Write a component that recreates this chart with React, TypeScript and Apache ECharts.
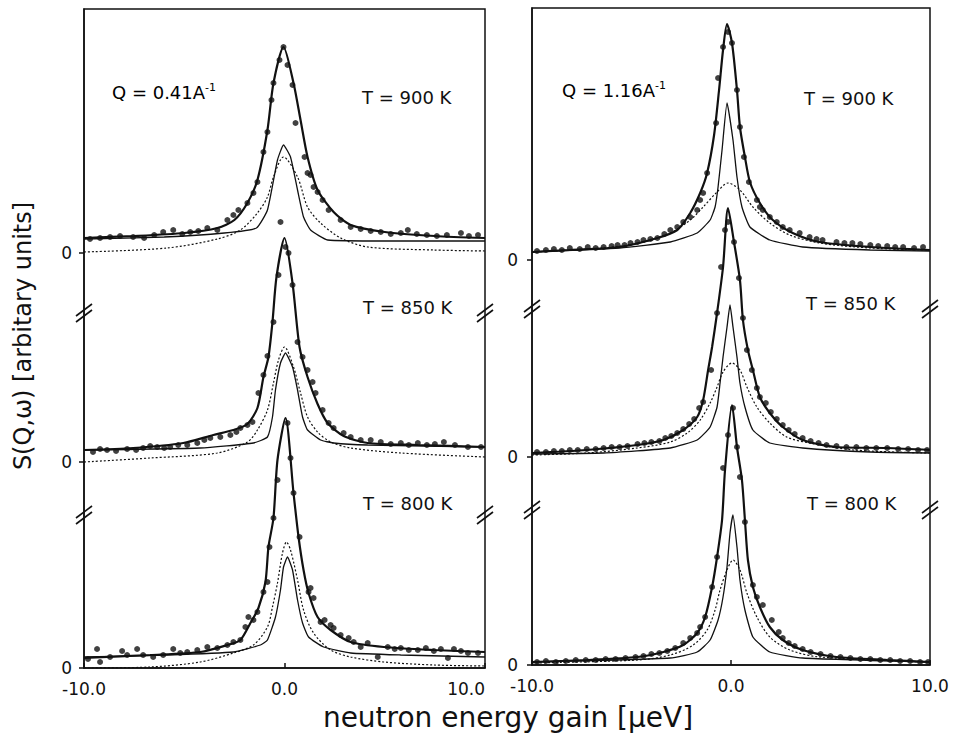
import React, { useEffect, useRef } from 'react';
import * as echarts from 'echarts';

type P = [number, number];

const FONT = '"DejaVu Sans", "Liberation Sans", sans-serif';
const INK = '#111';

// x axis (neutron energy gain, µeV)
const X_MIN = -10;
const X_MAX = 10;
const X_STEP = 10;

// baselines of the stacked spectra (arbitrary units)
const LEFT_BASE = { t800: 0, t850: 206, t900: 415 };
const RIGHT_BASE = { t800: 0, t850: 208, t900: 405 };
const LEFT_YMAX = 659;
const RIGHT_YMAX = 657;
const LEFT_BREAKS = [153, 355];
const RIGHT_BREAKS = [155, 356];

// ---------- Q = 0.41 A^-1 , T = 900 K ----------
const L900_fit: P[] = [[-10,15],[-7.5,17],[-5,20],[-3.35,25],[-2.5,33],[-1.85,50],[-1.35,73],[-0.85,123],[-0.55,170],[-0.05,206],[0.45,170],[0.8,133],[1.15,96],[1.65,63],[2.45,41],[3.3,28],[5,21],[7.5,17],[10,15]];
const L900_narrow: P[] = [[-10,14],[-6,16],[-3,20],[-1.4,25],[-0.85,43],[-0.35,93],[-0.05,108],[0.3,96],[0.65,63],[0.95,36],[1.3,23],[2.15,13],[5,12],[10,12]];
const L900_broad: P[] = [[-10,1],[-5.85,5],[-3.35,14],[-2.2,23],[-1.35,40],[-0.85,56],[-0.55,76],[-0.05,96],[0.65,76],[1.15,46],[1.8,30],[2.8,15],[4.15,6],[7.45,3],[10,2]];
const L900_pts: P[] = [[-9.7,14],[-9.2,15],[-8.7,16],[-8.2,17],[-7.55,16],[-7.0,15],[-6.5,18],[-6.05,21],[-5.55,23],[-5.1,19],[-4.7,21],[-4.3,22],[-3.85,25],[-3.35,23],[-2.85,33],[-2.55,38],[-2.3,43],[-1.85,50],[-1.55,60],[-1.35,71],[-1.05,101],[-0.85,121],[-0.65,153],[-0.55,170],[-0.25,193],[-0.05,206],[0.15,188],[0.4,168],[0.55,130],[1.0,96],[1.15,80],[1.3,78],[1.45,66],[1.65,61],[1.9,53],[2.2,43],[2.8,33],[3.3,26],[3.8,24],[4.3,22],[4.8,21],[5.3,19],[5.8,20],[6.15,23],[6.6,19],[7.1,18],[7.6,17],[8.1,18],[8.8,20],[9.2,17],[9.65,18]];

// ---------- Q = 0.41 A^-1 , T = 850 K ----------
const L850_fit: P[] = [[-10,12],[-7.55,14],[-5.05,19],[-3.55,27],[-2.55,32],[-1.85,38],[-1.35,54],[-1.05,85],[-0.8,105],[-0.6,140],[-0.4,185],[0,224],[0.4,179],[0.75,115],[1.15,85],[1.65,58],[2.15,39],[2.95,26],[4.15,19],[6.65,17],[10,15]];
const L850_narrow: P[] = [[-10,12],[-4.2,14],[-1.55,19],[-0.85,25],[-0.6,45],[-0.45,72],[-0.2,99],[0.05,109],[0.4,95],[0.65,72],[0.9,45],[1.15,32],[1.8,22],[2.45,19],[4.15,17],[10,15]];
const L850_broad: P[] = [[-10,0],[-6.7,4],[-3.35,9],[-1.85,20],[-1.35,32],[-0.85,52],[-0.55,79],[-0.3,102],[0,115],[0.45,95],[0.8,69],[1.15,45],[1.65,30],[2.3,20],[3.3,14],[5.8,9],[10,5]];
const L850_pts: P[] = [[-9.55,10],[-9.2,13],[-8.85,12],[-8.4,11],[-7.85,13],[-7.4,12],[-7.05,14],[-6.7,16],[-6.35,15],[-6.0,14],[-5.7,15],[-5.3,17],[-4.85,17],[-4.35,19],[-4.0,22],[-3.7,24],[-3.2,25],[-2.7,27],[-2.4,30],[-2.2,34],[-1.85,37],[-1.6,40],[-1.3,69],[-1.05,87],[-0.85,106],[-0.55,140],[-0.3,187],[-0.2,240],[0.05,215],[0.2,209],[0.4,177],[0.65,120],[0.9,105],[1.15,92],[1.4,80],[1.55,69],[1.9,52],[2.2,39],[2.45,34],[2.95,29],[3.3,25],[3.8,22],[4.3,22],[4.8,20],[5.3,18],[5.8,19],[6.2,17],[6.65,19],[7.1,17],[7.5,18],[7.95,20],[8.5,17],[9.15,15],[9.8,15]];

// ---------- Q = 0.41 A^-1 , T = 800 K ----------
const L800_fit: P[] = [[-10,10],[-6.7,13],[-4.2,16],[-2.85,23],[-2.2,28],[-1.7,45],[-1.3,60],[-0.95,86],[-0.8,121],[-0.55,150],[-0.35,208],[0.05,250],[0.45,175],[0.7,131],[0.95,98],[1.2,75],[1.65,51],[2.3,38],[3.3,26],[4.95,21],[7.45,18],[10,16]];
const L800_narrow: P[] = [[-10,11],[-5.85,13],[-2.55,16],[-1.2,23],[-0.85,28],[-0.45,51],[-0.2,78],[-0.05,101],[0.15,111],[0.4,98],[0.65,68],[0.9,45],[1.2,31],[1.95,21],[3.3,15],[5.8,13],[10,11]];
const L800_broad: P[] = [[-10,0],[-6.7,1],[-4.2,6],[-2.55,15],[-1.55,23],[-0.85,41],[-0.6,61],[-0.35,85],[-0.1,115],[0.1,126],[0.3,118],[0.65,88],[0.95,58],[1.45,35],[2.3,18],[3.3,11],[4.95,6],[7.45,3],[10,2]];
const L800_pts: P[] = [[-9.8,9],[-9.35,19],[-9.2,6],[-8.7,11],[-8.1,17],[-7.85,13],[-7.35,19],[-7.05,13],[-6.55,11],[-6.05,13],[-5.55,19],[-5.2,15],[-4.85,16],[-4.35,18],[-3.85,21],[-3.35,20],[-2.85,23],[-2.55,26],[-2.2,28],[-1.95,41],[-1.8,51],[-1.55,48],[-1.35,56],[-1.05,76],[-0.85,86],[-0.75,121],[-0.55,150],[-0.35,188],[0.15,245],[0.3,210],[0.45,175],[0.75,131],[1.2,76],[1.3,80],[1.45,70],[1.8,46],[2.0,48],[2.3,43],[2.45,40],[2.8,33],[3.2,30],[3.45,26],[3.8,21],[4.15,25],[4.65,11],[5.15,21],[5.5,19],[5.8,20],[6.2,18],[6.65,18],[7.05,20],[7.45,17],[7.8,19],[8.15,10],[8.45,19],[8.8,17],[9.15,15],[9.65,15]];

// ---------- Q = 1.16 A^-1 , T = 900 K ----------
const R900_fit: P[] = [[-10,8],[-8.1,10],[-5.6,13],[-3.7,22],[-2.7,30],[-2.05,47],[-1.55,67],[-1.2,87],[-0.85,125],[-0.6,170],[-0.4,210],[-0.2,236],[0.05,217],[0.3,170],[0.45,133],[0.7,103],[0.95,78],[1.45,57],[2.1,40],[3.1,27],[4.45,18],[7,13],[10,10]];
const R900_narrow: P[] = [[-10,8],[-5.6,12],[-3.05,18],[-1.7,27],[-1.05,40],[-0.8,53],[-0.65,73],[-0.45,110],[-0.2,157],[0.1,120],[0.3,83],[0.55,53],[0.95,33],[1.95,20],[3.6,13],[7,10],[10,9]];
const R900_broad: P[] = [[-10,8],[-6.4,12],[-4.4,18],[-3.05,27],[-2.05,40],[-1.4,53],[-0.7,68],[-0.15,77],[0.45,70],[1.1,53],[1.95,37],[2.95,25],[4.45,17],[7,12],[10,10]];
const R900_pts: P[] = [[-9.75,9],[-9.3,10],[-8.9,11],[-8.5,10],[-8.1,12],[-7.6,11],[-7.2,13],[-6.8,12],[-6.4,13],[-6.0,14],[-5.7,15],[-5.35,15],[-5.05,17],[-4.7,18],[-4.4,20],[-4.05,21],[-3.7,22],[-3.35,26],[-3.05,30],[-2.7,33],[-2.4,38],[-2.05,43],[-1.7,50],[-1.55,60],[-1.4,67],[-1.2,87],[-0.75,137],[-0.65,182],[-0.4,213],[-0.15,228],[0.05,217],[0.3,170],[0.45,133],[0.65,103],[0.9,78],[1.3,60],[1.45,53],[1.6,50],[1.95,43],[2.3,38],[2.6,33],[2.95,30],[3.45,27],[3.95,23],[4.3,21],[4.6,20],[5.3,18],[5.7,17],[6.1,17],[6.5,16],[7,15],[7.4,14],[7.85,14],[8.25,13],[8.65,13],[9.2,12],[9.65,13]];

// ---------- Q = 1.16 A^-1 , T = 850 K ----------
const R850_fit: P[] = [[-10,4],[-7.25,7],[-4.7,12],[-3.4,17],[-2.4,27],[-1.7,40],[-1.4,57],[-1.15,87],[-0.95,110],[-0.7,144],[-0.4,190],[-0.15,249],[0.15,215],[0.45,177],[0.6,137],[0.85,107],[1.1,87],[1.45,60],[1.95,44],[2.6,30],[3.6,17],[5.3,10],[7.85,9],[10,7]];
const R850_narrow: P[] = [[-10,3],[-6.4,4],[-3.05,9],[-1.7,17],[-1.05,30],[-0.7,50],[-0.55,74],[-0.4,100],[-0.2,130],[-0.05,152],[0.1,130],[0.3,100],[0.45,74],[0.7,50],[1.1,27],[1.95,14],[3.6,9],[7,5],[10,4]];
const R850_broad: P[] = [[-10,2],[-7.25,4],[-4.7,9],[-3.05,15],[-2.2,24],[-1.55,37],[-1.05,54],[-0.7,70],[-0.4,85],[0.05,94],[0.45,87],[0.8,70],[1.3,50],[1.95,34],[2.8,20],[3.95,14],[6.15,7],[10,4]];
const R850_pts: P[] = [[-9.75,5],[-9.3,5],[-8.9,6],[-8.5,6],[-8.1,7],[-7.7,7],[-7.25,8],[-6.8,8],[-6.4,9],[-6.0,10],[-5.6,10],[-5.2,11],[-4.7,13],[-4.35,14],[-4.0,15],[-3.6,16],[-3.3,19],[-3.0,21],[-2.7,24],[-2.4,28],[-2.1,33],[-1.85,38],[-1.6,49],[-1.4,55],[-1.0,87],[-0.7,144],[-0.5,190],[-0.3,227],[-0.15,235],[0.15,215],[0.4,179],[0.6,139],[0.8,107],[1.05,87],[1.3,69],[1.45,60],[1.75,54],[2.0,45],[2.3,38],[2.6,32],[2.9,27],[3.2,23],[3.6,19],[4.0,16],[4.4,14],[4.8,12],[5.3,11],[5.8,10],[6.3,10],[6.8,9],[7.3,9],[7.85,9],[8.4,8],[8.9,8],[9.4,7],[9.85,7]];

// ---------- Q = 1.16 A^-1 , T = 800 K ----------
const R800_fit: P[] = [[-10,3],[-7.25,5],[-4.7,8],[-3.4,13],[-2.4,20],[-1.7,32],[-1.3,48],[-0.95,78],[-0.7,108],[-0.45,145],[-0.3,195],[0.05,260],[0.3,218],[0.55,185],[0.7,145],[0.85,105],[1.1,78],[1.45,58],[1.95,38],[2.6,25],[3.6,15],[5.3,8],[7.85,5],[10,3]];
const R800_narrow: P[] = [[-10,3],[-3.05,7],[-1.7,13],[-1.05,25],[-0.65,45],[-0.4,68],[-0.2,98],[-0.05,132],[0.1,150],[0.3,118],[0.45,85],[0.7,55],[1.1,28],[1.95,13],[3.6,7],[10,3]];
const R800_broad: P[] = [[-10,2],[-4.7,5],[-3.05,10],[-1.9,20],[-1.2,35],[-0.8,55],[-0.55,75],[-0.2,95],[0.1,105],[0.45,95],[0.8,72],[1.3,48],[1.95,28],[2.95,15],[4.45,8],[10,3]];
const R800_pts: P[] = [[-9.75,3],[-9.3,4],[-8.8,3],[-8.3,4],[-7.8,5],[-7.3,5],[-6.8,5],[-6.3,6],[-5.8,6],[-5.3,7],[-4.8,8],[-4.4,9],[-4.0,11],[-3.6,12],[-3.2,14],[-2.8,17],[-2.4,22],[-2.05,27],[-1.7,32],[-1.55,38],[-1.3,48],[-0.95,78],[-0.7,108],[-0.4,197],[-0.15,230],[0.1,257],[0.3,218],[0.45,188],[0.7,143],[1.1,80],[1.3,68],[1.6,60],[2.05,45],[2.4,33],[2.6,27],[2.9,22],[3.2,19],[3.6,16],[4.0,13],[4.5,11],[5.0,9],[5.5,8],[6.0,7],[6.5,6],[7.0,6],[7.5,5],[8.0,5],[8.5,4],[9.0,4],[9.5,3],[9.9,3]];

const Y_TITLE = 'S(Q,ω) [arbitary units]';
const X_TITLE = 'neutron energy gain [µeV]';

type Spectrum = { pts: P[]; fit: P[]; narrow: P[]; broad: P[]; base: number; label: string };

const LEFT: Spectrum[] = [
  { pts: L900_pts, fit: L900_fit, narrow: L900_narrow, broad: L900_broad, base: LEFT_BASE.t900, label: 'T = 900 K' },
  { pts: L850_pts, fit: L850_fit, narrow: L850_narrow, broad: L850_broad, base: LEFT_BASE.t850, label: 'T = 850 K' },
  { pts: L800_pts, fit: L800_fit, narrow: L800_narrow, broad: L800_broad, base: LEFT_BASE.t800, label: 'T = 800 K' },
];
const RIGHT: Spectrum[] = [
  { pts: R900_pts, fit: R900_fit, narrow: R900_narrow, broad: R900_broad, base: RIGHT_BASE.t900, label: 'T = 900 K' },
  { pts: R850_pts, fit: R850_fit, narrow: R850_narrow, broad: R850_broad, base: RIGHT_BASE.t850, label: 'T = 850 K' },
  { pts: R800_pts, fit: R800_fit, narrow: R800_narrow, broad: R800_broad, base: RIGHT_BASE.t800, label: 'T = 800 K' },
];

const shift = (arr: P[], base: number) => arr.map(([x, y]) => [x, y + base]);

function spectrumSeries(s: Spectrum, ai: number): any[] {
  return [
    {
      type: 'line', xAxisIndex: ai, yAxisIndex: ai, data: shift(s.broad, s.base),
      symbol: 'none', smooth: 0.3, lineStyle: { color: INK, width: 1.2, type: [2, 2] }, z: 2,
    },
    {
      type: 'line', xAxisIndex: ai, yAxisIndex: ai, data: shift(s.narrow, s.base),
      symbol: 'none', smooth: 0.15, lineStyle: { color: INK, width: 1.3 }, z: 2,
    },
    {
      type: 'line', xAxisIndex: ai, yAxisIndex: ai, data: shift(s.fit, s.base),
      symbol: 'none', smooth: 0.25, lineStyle: { color: INK, width: 2.2 }, z: 3,
    },
    {
      type: 'scatter', xAxisIndex: ai, yAxisIndex: ai, data: shift(s.pts, s.base),
      symbol: 'circle', symbolSize: 6, itemStyle: { color: INK }, z: 4,
    },
  ];
}

function xAxis(gi: number) {
  return {
    type: 'value', gridIndex: gi, min: X_MIN, max: X_MAX, interval: X_STEP,
    axisLine: { show: true, onZero: false, lineStyle: { color: INK, width: 1.5 } },
    axisTick: { show: true, inside: true, length: 5, lineStyle: { color: INK, width: 1.5 } },
    splitLine: { show: false },
    axisLabel: {
      formatter: (v: number) => v.toFixed(1), color: INK, fontFamily: FONT, fontSize: 17, margin: 12,
      alignMaxLabel: gi === 0 ? 'right' : 'center',
    },
  };
}

function yAxis(gi: number, max: number, bases: number[], margin: number) {
  return {
    type: 'value', gridIndex: gi, min: 0, max,
    axisLine: { show: true, onZero: false, lineStyle: { color: INK, width: 1.5 } },
    axisTick: { show: true, length: 5, customValues: bases, lineStyle: { color: INK, width: 1.5 } },
    splitLine: { show: false },
    axisLabel: {
      customValues: bases, formatter: () => '0', color: INK, fontFamily: FONT, fontSize: 17, margin,
    },
  };
}

function textEl(x: number, y: number, text: string, size = 18): any {
  return {
    type: 'text', x, y, z: 20,
    style: { text, fill: INK, fontFamily: FONT, fontSize: size, textAlign: 'left', textVerticalAlign: 'middle' },
  };
}

function qLabel(x: number, y: number, q: string): any {
  return {
    type: 'text', x, y, z: 20,
    style: {
      text: `{a|Q = ${q}A}{s|-1}`,
      textAlign: 'left', textVerticalAlign: 'middle',
      rich: {
        a: { fontFamily: FONT, fontSize: 18, color: INK, lineHeight: 20 },
        s: { fontFamily: FONT, fontSize: 11, color: INK, verticalAlign: 'top', lineHeight: 12 },
      },
    },
  };
}

export default function App() {
  const ref = useRef<HTMLDivElement>(null);

  useEffect(() => {
    if (!ref.current) return;
    const chart = echarts.init(ref.current, null, { renderer: 'svg' });

    const series: any[] = [];
    LEFT.forEach((s) => series.push(...spectrumSeries(s, 0)));
    RIGHT.forEach((s) => series.push(...spectrumSeries(s, 1)));

    const graphics: any[] = [
      {
        type: 'text', x: 23, y: 336, rotation: Math.PI / 2, z: 20,
        style: { text: Y_TITLE, fill: INK, fontFamily: FONT, fontSize: 24, textAlign: 'center', textVerticalAlign: 'middle' },
      },
      {
        type: 'text', x: 508, y: 717, z: 20,
        style: { text: X_TITLE, fill: INK, fontFamily: FONT, fontSize: 28, textAlign: 'center', textVerticalAlign: 'middle' },
      },
      qLabel(112, 92, '0.41'),
      qLabel(562, 90, '1.16'),
      textEl(362, 97, LEFT[0].label),
      textEl(363, 307, LEFT[1].label),
      textEl(363, 503, LEFT[2].label),
      textEl(804, 98, RIGHT[0].label),
      textEl(806, 303, RIGHT[1].label),
      textEl(807, 503, RIGHT[2].label),
    ];

    chart.setOption({
      animation: false,
      backgroundColor: '#fff',
      grid: [
        { left: 84, top: 9, width: 401, height: 659, show: true, borderColor: INK, borderWidth: 1.5, backgroundColor: 'transparent' },
        { left: 532, top: 8, width: 398, height: 657, show: true, borderColor: INK, borderWidth: 1.5, backgroundColor: 'transparent' },
      ],
      xAxis: [xAxis(0), xAxis(1)],
      yAxis: [
        yAxis(0, LEFT_YMAX, [LEFT_BASE.t800, LEFT_BASE.t850, LEFT_BASE.t900], 12),
        yAxis(1, RIGHT_YMAX, [RIGHT_BASE.t800, RIGHT_BASE.t850, RIGHT_BASE.t900], 14),
      ],
      series,
      graphic: graphics,
    });

    // axis-break marks
    const breaks: any[] = [];
    const slash = (cx: number, cy: number) => {
      [-3, 3].forEach((off) => {
        breaks.push({
          type: 'line', z: 25,
          shape: { x1: cx - 8, y1: cy + off + 6, x2: cx + 8, y2: cy + off - 6 },
          style: { stroke: INK, lineWidth: 1.6 },
        });
      });
    };
    const addBreaks = (gi: number, vals: number[]) => {
      vals.forEach((v) => {
        [X_MIN, X_MAX].forEach((xv) => {
          const p = chart.convertToPixel({ xAxisIndex: gi, yAxisIndex: gi }, [xv, v]) as number[];
          if (p) slash(p[0], p[1]);
        });
      });
    };
    addBreaks(0, LEFT_BREAKS);
    addBreaks(1, RIGHT_BREAKS);
    chart.setOption({ graphic: [...graphics, ...breaks] });

    return () => chart.dispose();
  }, []);

  return (
    <div
      ref={ref}
      style={{ position: 'absolute', left: 0, top: 0, width: 954, height: 738, background: '#fff' }}
    />
  );
}
